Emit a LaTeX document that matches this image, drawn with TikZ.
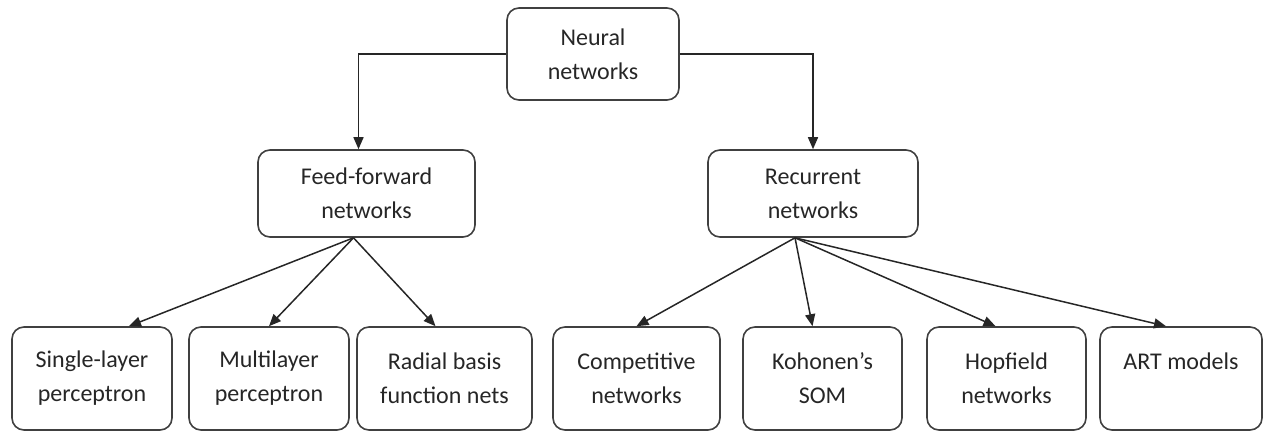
\documentclass[tikz,border=0pt]{standalone}
\usepackage{fontspec}
\setmainfont{Carlito}
\usetikzlibrary{arrows.meta,calc}

\begin{document}
\begin{tikzpicture}[x=0.5pt, y=-0.5pt,
        box/.style={draw=black!75, line width=0.8pt, rounded corners=6pt, align=center,
                inner sep=0pt, text=black!85, font=\fontsize{12}{17}\selectfont},
        link/.style={-{Triangle[length=6pt,width=5pt]}, line width=0.75pt, black!85}]
    \useasboundingbox (0,0) rectangle (1272,432);

    % oberste Ebene
    \node[box, minimum width=86pt, minimum height=46pt] (nn) at (593,54) {Neural\\networks};

    % zweite Ebene
    \node[box, minimum width=108.5pt, minimum height=43.5pt] (ff) at (366.5,193.5) {Feed-forward\\networks};
    \node[box, minimum width=105pt, minimum height=43.5pt] (rec) at (813,193.5) {Recurrent\\networks};

    % Blaetter
    \node[box, minimum width=80pt, minimum height=51.5pt] (single) at (92,378.5) {Single-layer\\perceptron};
    \node[box, minimum width=80pt, minimum height=51.5pt] (multi) at (269,378.5) {Multilayer\\perceptron};
    \node[box, minimum width=87.5pt, minimum height=51.5pt] (radial) at (444.5,378.5) {Radial basis\\function nets};
    \node[box, minimum width=83.5pt, minimum height=51.5pt] (comp) at (636.5,378.5) {Competitive\\networks};
    \node[box, minimum width=79.5pt, minimum height=51.5pt] (koh) at (822.5,378.5) {Kohonen's\\SOM};
    \node[box, minimum width=79.5pt, minimum height=51.5pt] (hop) at (1006.5,378.5) {Hopfield\\networks};
    \node[box, minimum width=81pt, minimum height=51.5pt] (art) at (1181,378.5) {ART models\\~};

    % Verbindungen oben
    \draw[link] (nn.west) -| ($(ff.north)+(-8,0)$);
    \draw[link] (nn.east) -| (rec.north);

    % Verbindungen unten
    \coordinate (ffout) at ($(ff.south)+(-13,0)$);
    \coordinate (recout) at ($(rec.south)+(-18,0)$);
    \draw[link] (ffout) -- ($(single.north)+(37,0)$);
    \draw[link] (ffout) -- (multi.north);
    \draw[link] (ffout) -- ($(radial.north)+(-9,0)$);
    \draw[link] (recout) -- (comp.north);
    \draw[link] (recout) -- ($(koh.north)+(-10,0)$);
    \draw[link] (recout) -- ($(hop.north)+(-11,0)$);
    \draw[link] (recout) -- ($(art.north)+(-15,0)$);
\end{tikzpicture}
\end{document}
